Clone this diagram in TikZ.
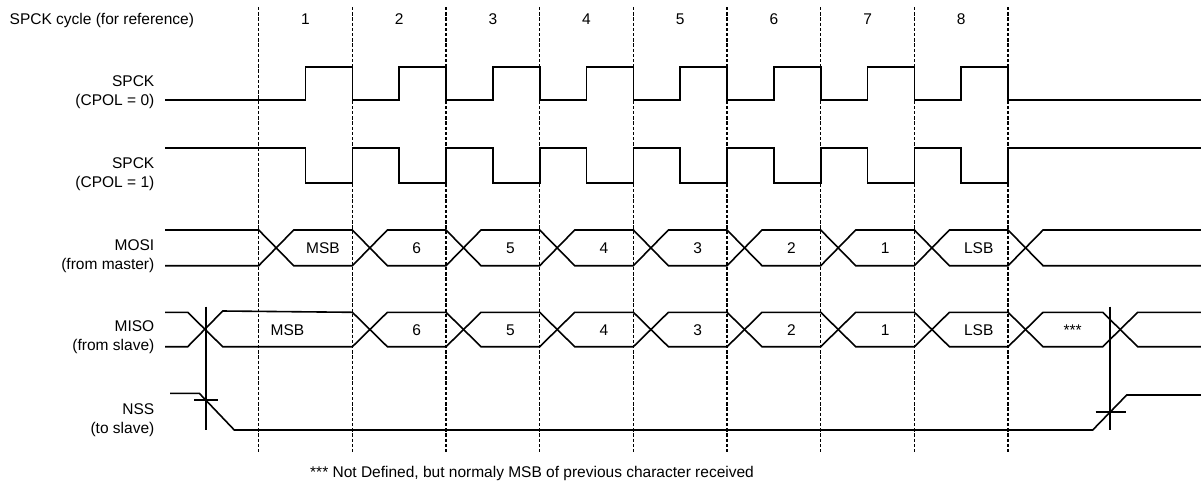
\documentclass[tikz,border=0pt]{standalone}
\usepackage{fontspec}
\setmainfont{Liberation Sans}
\begin{document}
\begin{tikzpicture}[x=1pt,y=-1pt,
  sig/.style={line width=1.6pt,line join=miter},
  grid/.style={line width=1.3pt,dash pattern=on 3.4pt off 1.8pt},
  lbl/.style={anchor=base east,inner sep=0pt,font=\fontsize{15.5}{18}\selectfont},
  txt/.style={anchor=base,inner sep=0pt,font=\fontsize{15.5}{18}\selectfont},
  foot/.style={anchor=base west,inner sep=0pt,font=\fontsize{15.5}{18}\selectfont}]
\useasboundingbox (0,0) rectangle (1201,483);
\def\xo{258.7}\def\p{93.67}\def\d{35}
% dashed cycle lines
\foreach \i in {0,...,8}
  \draw[grid] ({\xo+\i*\p},7) coordinate (g\i) -- ({\xo+\i*\p},453);
% header
\node[anchor=base west,inner sep=0pt,font=\fontsize{15.5}{18}\selectfont] (hdr) at (9.5,24.5) {SPCK cycle (for reference)};
\foreach \i in {1,...,8}
  \node[txt] (n\i) at ({\xo+(\i-0.5)*\p},24.5) {\i};
% signal labels
\node[lbl] (l1a) at (154.5,86) {SPCK};
\node[lbl] (l1b) at (154.5,105) {(CPOL = 0)};
\node[lbl] (l2a) at (154.5,168) {SPCK};
\node[lbl] (l2b) at (154.5,187) {(CPOL = 1)};
\node[lbl] (l3a) at (154.5,250) {MOSI};
\node[lbl] (l3b) at (154.5,269) {(from master)};
\node[lbl] (l4a) at (154.5,331.5) {MISO};
\node[lbl] (l4b) at (154.5,350.5) {(from slave)};
\node[lbl] (l5a) at (154.5,414) {NSS};
\node[lbl] (l5b) at (154.5,433) {(to slave)};
% SPCK CPOL=0
\draw[sig] (165,100) foreach \i in {0,...,7} {
  -- ({\xo+(\i+0.5)*\p},100) -- ({\xo+(\i+0.5)*\p},66.7)
  -- ({\xo+(\i+1)*\p},66.7) -- ({\xo+(\i+1)*\p},100) } -- (1201,100);
% SPCK CPOL=1
\draw[sig] (165,147.7) foreach \i in {0,...,7} {
  -- ({\xo+(\i+0.5)*\p},147.7) -- ({\xo+(\i+0.5)*\p},182.7)
  -- ({\xo+(\i+1)*\p},182.7) -- ({\xo+(\i+1)*\p},147.7) } -- (1201,147.7);
% MOSI
\def\T{230}\def\B{265.7}
\draw[sig] (165,\T) foreach \i in {0,2,4,6} {
  -- ({\xo+\i*\p},\T) -- ({\xo+\i*\p+\d},\B)
  -- ({\xo+(\i+1)*\p},\B) -- ({\xo+(\i+1)*\p+\d},\T) }
  -- ({\xo+8*\p},\T) -- ({\xo+8*\p+\d},\B) -- (1201,\B);
\draw[sig] (165,\B) foreach \i in {0,2,4,6} {
  -- ({\xo+\i*\p},\B) -- ({\xo+\i*\p+\d},\T)
  -- ({\xo+(\i+1)*\p},\T) -- ({\xo+(\i+1)*\p+\d},\B) }
  -- ({\xo+8*\p},\B) -- ({\xo+8*\p+\d},\T) -- (1201,\T);
% MOSI data labels
\foreach \t [count=\k from 0] in {MSB,6,5,4,3,2,1,LSB}
  \node[txt] (mo\k) at ({\xo+\k*\p+\d/2+\p/2},253.4) {\t};
% MISO
\def\T{312.3}\def\B{346.7}
\draw[sig] (165,\T) -- (187.7,\T) -- (222.7,\B) foreach \i in {1,3,5,7} {
  -- ({\xo+\i*\p},\B) -- ({\xo+\i*\p+\d},\T)
  -- ({\xo+(\i+1)*\p},\T) -- ({\xo+(\i+1)*\p+\d},\B) }
  -- (1102.7,\B) -- (1137.7,\T) -- (1201,\T);
\draw[sig] (165,\B) -- (187.7,\B) -- (222.7,311) -- ({\xo+\p},\T) -- ({\xo+\p+\d},\B)
  foreach \i in {2,4,6} {
  -- ({\xo+\i*\p},\B) -- ({\xo+\i*\p+\d},\T)
  -- ({\xo+(\i+1)*\p},\T) -- ({\xo+(\i+1)*\p+\d},\B) }
  -- ({\xo+8*\p},\B) -- ({\xo+8*\p+\d},\T)
  -- (1102.7,\T) -- (1137.7,\B) -- (1201,\B);
% MISO data labels
\node[txt] (mi0) at (287.5,335) {MSB};
\foreach \t [count=\k from 1] in {6,5,4,3,2,1,LSB}
  \node[txt] (mi\k) at ({\xo+\k*\p+\d/2+\p/2},335) {\t};
\node[txt] (mi8) at (1072.7,335) {***};
% NSS
\draw[sig] (170,393.3) -- (199.3,393.3) -- (234.3,430) -- (1092.7,430) -- (1126.7,395) -- (1201,395);
% NSS markers
\draw[sig] (205.7,306.7) -- (205.7,430);
\draw[sig] (194,400) -- (218,400);
\draw[sig] (1110,306.7) -- (1110,430);
\draw[sig] (1095.7,411.7) -- (1125.7,411.7);
% footnote
\node[foot] (fn) at (310,477) {*** Not Defined, but normaly MSB of previous character received};
\end{tikzpicture}
\end{document}
